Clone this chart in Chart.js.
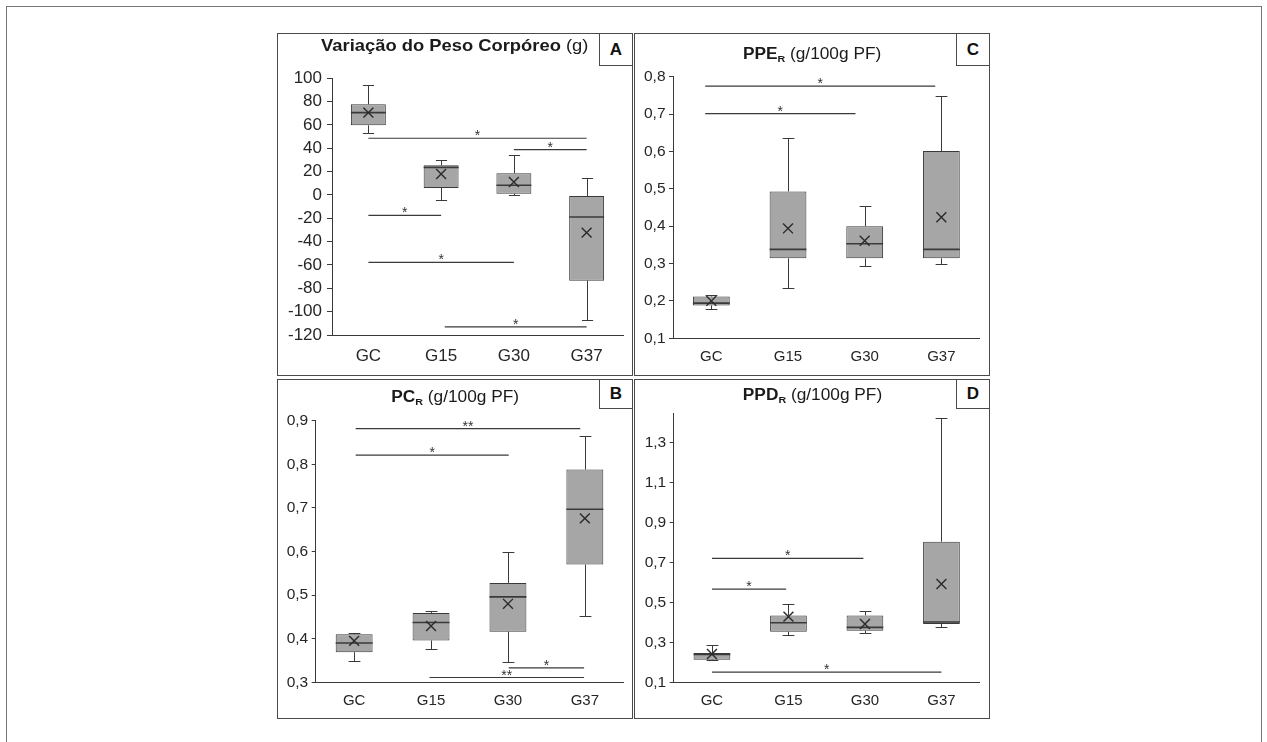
<!DOCTYPE html>
<html>
<head>
<meta charset="utf-8">
<script src="https://cdn.jsdelivr.net/npm/chart.js@4.4.0/dist/chart.umd.min.js"></script>
<style>
  body { margin: 0; background: #fff; width: 1267px; height: 742px; overflow: hidden; position: relative;
         font-family: Arial, "Liberation Sans", sans-serif; }
  #frame { position: absolute; left: 6px; top: 6px; width: 1256px; height: 790px; border: 1px solid #777; box-sizing: border-box; }
  .panel { position: absolute; box-sizing: border-box; border: 1px solid #4a4a4a; width: 356px; background: #fff; }
  .top { top: 33px; height: 343px; }
  .bottom { top: 379px; height: 340px; }
  .panel canvas { position: absolute; left: 0; top: 0; }
  .ttl { position: absolute; left: 0; right: 0; text-align: center; line-height: 20px; color: #1a1a1a; white-space: nowrap; font-size: 16px; }
  .ttl span { display: inline-block; transform: scaleX(1.08); }
  .ttl sub { font-size: 0.62em; vertical-align: -0.3em; line-height: 0; }
  .tag { position: absolute; right: 0; top: 0; width: 33px; box-sizing: border-box; border-left: 1px solid #4a4a4a;
         border-bottom: 1px solid #4a4a4a; font-weight: bold; font-size: 17px; text-align: center; color: #111; background: #fff; }
  .top .tag { height: 32px; line-height: 31px; }
  .bottom .tag { height: 29px; line-height: 28px; }
</style>
</head>
<body>
<div id="frame"></div>

<div class="panel top" style="left:277px">
  <canvas id="chartA" width="354" height="341"></canvas>
  <div class="ttl" style="top:2px;font-size:17px"><span><b>Variação do Peso Corpóreo</b> (g)</span></div>
  <div class="tag">A</div>
</div>
<div class="panel top" style="left:634px">
  <canvas id="chartC" width="354" height="341"></canvas>
  <div class="ttl" style="top:10px"><span><b>PPE<sub>R</sub></b> (g/100g PF)</span></div>
  <div class="tag">C</div>
</div>
<div class="panel bottom" style="left:277px">
  <canvas id="chartB" width="354" height="338"></canvas>
  <div class="ttl" style="top:7px"><span><b>PC<sub>R</sub></b> (g/100g PF)</span></div>
  <div class="tag">B</div>
</div>
<div class="panel bottom" style="left:634px">
  <canvas id="chartD" width="354" height="338"></canvas>
  <div class="ttl" style="top:5px"><span><b>PPD<sub>R</sub></b> (g/100g PF)</span></div>
  <div class="tag">D</div>
</div>

<script>
const groups = ['GC', 'G15', 'G30', 'G37'];

// A - variação do peso corpóreo (g)
const pesoMin  = [53.1, -4.3, 0.3, -106.9];
const pesoQ1   = [59.7, 6, 1.1, -73.4];
const pesoMed  = [70.6, 23.7, 8.3, -18.9];
const pesoQ3   = [77.7, 25.4, 18.6, -0.9];
const pesoMax  = [94.3, 30, 34.6, 14.6];
const pesoMean = [70.6, 18, 11.1, -32.3];
const pesoTicks = [-120, -100, -80, -60, -40, -20, 0, 20, 40, 60, 80, 100];
const pesoSig = [[0, 3, 48.6, '*'], [2, 3, 38.9, '*'], [0, 1, -17.4, '*'], [0, 2, -57.7, '*'], [1.05, 3, -113.1, '*']];

// B - PC_R
const pcMin  = [0.349, 0.376, 0.346, 0.452];
const pcQ1   = [0.369, 0.396, 0.416, 0.570];
const pcMed  = [0.390, 0.437, 0.496, 0.697];
const pcQ3   = [0.410, 0.459, 0.528, 0.788];
const pcMax  = [0.413, 0.464, 0.598, 0.866];
const pcMean = [0.395, 0.429, 0.480, 0.676];
const pcTicks = [0.3, 0.4, 0.5, 0.6, 0.7, 0.8, 0.9];
const pcSig = [[0.02, 2.94, 0.882, '**'], [0.02, 2.01, 0.821, '*'], [2.01, 2.99, 0.333, '*'], [0.98, 2.99, 0.311, '**']];

// C - PPE_R
const ppeMin  = [0.178, 0.235, 0.293, 0.298];
const ppeQ1   = [0.188, 0.314, 0.314, 0.314];
const ppeMed  = [0.194, 0.338, 0.353, 0.338];
const ppeQ3   = [0.212, 0.493, 0.400, 0.601];
const ppeMax  = [0.215, 0.637, 0.454, 0.749];
const ppeMean = [0.200, 0.394, 0.361, 0.424];
const ppeTicks = [0.1, 0.2, 0.3, 0.4, 0.5, 0.6, 0.7, 0.8];
const ppeSig = [[-0.08, 2.92, 0.775, '*'], [-0.08, 1.88, 0.701, '*']];

// D - PPD_R
const ppdMin  = [0.210, 0.337, 0.345, 0.378];
const ppdQ1   = [0.213, 0.353, 0.358, 0.392];
const ppdMed  = [0.240, 0.398, 0.375, 0.402];
const ppdQ3   = [0.247, 0.435, 0.435, 0.804];
const ppdMax  = [0.285, 0.492, 0.459, 1.422];
const ppdMean = [0.242, 0.429, 0.392, 0.592];
const ppdTicks = [0.1, 0.3, 0.5, 0.7, 0.9, 1.1, 1.3];
const ppdSig = [[0, 1.98, 0.721, '*'], [0, 0.97, 0.567, '*'], [0, 3, 0.151, '*']];

const lineColor = '#3a3a3a';
const fontFamily = 'Arial, "Liberation Sans", sans-serif';

const crisp = v => Math.round(v) + 0.5;

// whiskers, medians and the significance bars
function boxPlugin(s) {
  return {
    id: 'boxes',
    afterDatasetDraw(chart, args) {
      if (args.index !== 0) return;
      const { ctx, scales: { y } } = chart;
      const bars = chart.getDatasetMeta(0).data;
      ctx.save();
      ctx.strokeStyle = lineColor;
      bars.forEach((bar, i) => {
        const cx = crisp(bar.x);
        const half = bar.width / 2;
        const cap = bar.width * 0.16;
        const yHi = crisp(y.getPixelForValue(s.hi[i]));
        const yLo = crisp(y.getPixelForValue(s.lo[i]));
        ctx.lineWidth = 1;
        ctx.beginPath();
        ctx.moveTo(cx, y.getPixelForValue(s.q3[i]));
        ctx.lineTo(cx, yHi);
        ctx.moveTo(cx - cap, yHi);
        ctx.lineTo(cx + cap, yHi);
        ctx.moveTo(cx, y.getPixelForValue(s.q1[i]));
        ctx.lineTo(cx, yLo);
        ctx.moveTo(cx - cap, yLo);
        ctx.lineTo(cx + cap, yLo);
        ctx.stroke();
        ctx.lineWidth = 1.6;
        ctx.beginPath();
        const my = y.getPixelForValue(s.med[i]);
        ctx.moveTo(bar.x - half, my);
        ctx.lineTo(bar.x + half, my);
        ctx.stroke();
      });
      ctx.restore();
    },
    afterDatasetsDraw(chart) {
      const { ctx, scales: { x, y } } = chart;
      ctx.save();
      ctx.strokeStyle = lineColor;
      ctx.fillStyle = '#333';
      ctx.lineWidth = 1.2;
      ctx.font = '14px ' + fontFamily;
      ctx.textAlign = 'center';
      ctx.textBaseline = 'alphabetic';
      s.sig.forEach(([a, b, v, label]) => {
        const x1 = x.getPixelForValue(a);
        const x2 = x.getPixelForValue(b);
        const py = y.getPixelForValue(v);
        ctx.beginPath();
        ctx.moveTo(x1, py);
        ctx.lineTo(x2, py);
        ctx.stroke();
        ctx.fillText(label, (x1 + x2) / 2, py + 2);
      });
      ctx.restore();
    }
  };
}

function makeChart(id, s) {
  return new Chart(document.getElementById(id), {
    type: 'bar',
    data: {
      labels: groups,
      datasets: [
        {
          data: s.q1.map((v, i) => [v, s.q3[i]]),
          backgroundColor: '#a6a6a6',
          borderColor: lineColor,
          borderWidth: 1,
          borderSkipped: false,
          barPercentage: 0.48,
          categoryPercentage: 1,
          order: 2
        },
        {
          type: 'line',
          data: s.mean,
          showLine: false,
          pointStyle: 'crossRot',
          pointRadius: 7,
          pointBorderWidth: 1.4,
          pointBorderColor: '#2a2a2a',
          pointBackgroundColor: 'transparent',
          order: 1
        }
      ]
    },
    options: {
      responsive: false,
      animation: false,
      layout: { padding: { top: s.top, right: s.right, left: 0, bottom: 0 } },
      plugins: { legend: { display: false }, tooltip: { enabled: false } },
      scales: {
        x: {
          grid: { display: true, drawOnChartArea: false, drawTicks: false, color: lineColor },
          border: { color: lineColor, width: 1 },
          ticks: { color: '#262626', padding: s.xPad, font: { family: fontFamily, size: s.xFont } },
          afterFit: sc => { sc.height = s.xH; }
        },
        y: {
          min: s.min,
          max: s.max,
          afterBuildTicks: sc => { sc.ticks = s.ticks.map(v => ({ value: v })); },
          grid: { drawOnChartArea: false, tickLength: s.tickLen, color: lineColor },
          border: { color: lineColor, width: 1 },
          ticks: {
            autoSkip: false,
            color: '#262626',
            padding: s.yPad,
            font: { family: fontFamily, size: s.yFont },
            callback: v => s.comma ? v.toFixed(1).replace('.', ',') : String(v)
          },
          afterFit: sc => { sc.width = s.yW; }
        }
      }
    },
    plugins: [boxPlugin(s)]
  });
}

makeChart('chartA', {
  q1: pesoQ1, q3: pesoQ3, lo: pesoMin, med: pesoMed, hi: pesoMax, mean: pesoMean, sig: pesoSig,
  ticks: pesoTicks, min: -120, max: 100, comma: false,
  top: 44.3, right: 9, xH: 40, yW: 54, xPad: 11, yPad: 5, tickLen: 5, xFont: 17, yFont: 17
});
makeChart('chartC', {
  q1: ppeQ1, q3: ppeQ3, lo: ppeMin, med: ppeMed, hi: ppeMax, mean: ppeMean, sig: ppeSig,
  ticks: ppeTicks, min: 0.1, max: 0.8, comma: true,
  top: 42.7, right: 9.3, xH: 36.7, yW: 38, xPad: 9.5, yPad: 3.5, tickLen: 4, xFont: 15, yFont: 15.5
});
makeChart('chartB', {
  q1: pcQ1, q3: pcQ3, lo: pcMin, med: pcMed, hi: pcMax, mean: pcMean, sig: pcSig,
  ticks: pcTicks, min: 0.3, max: 0.9, comma: true,
  top: 40.7, right: 8.7, xH: 35.7, yW: 37.7, xPad: 9.5, yPad: 3.5, tickLen: 4, xFont: 15, yFont: 15.5
});
makeChart('chartD', {
  q1: ppdQ1, q3: ppdQ3, lo: ppdMin, med: ppdMed, hi: ppdMax, mean: ppdMean, sig: ppdSig,
  ticks: ppdTicks, min: 0.1, max: 1.447, comma: true,
  top: 33.3, right: 9.3, xH: 35.7, yW: 38.7, xPad: 9.5, yPad: 3.5, tickLen: 4, xFont: 15, yFont: 15.5
});
</script>
</body>
</html>
